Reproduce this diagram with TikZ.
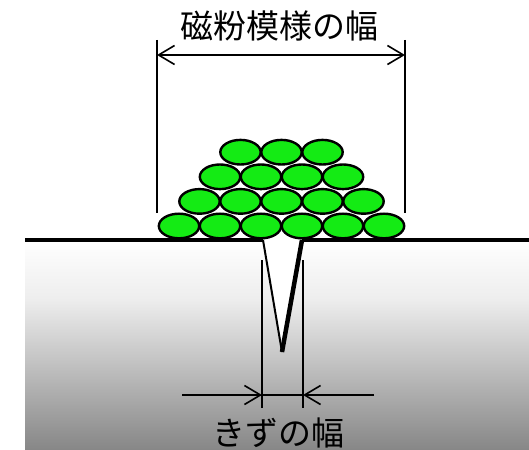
\documentclass[tikz,border=0pt]{standalone}
\usepackage{fontspec}
\newfontfamily\jpfont{Noto Sans CJK JP}
\usetikzlibrary{arrows.meta}
\definecolor{ballgreen}{RGB}{20,235,20}
\definecolor{steeltop}{gray}{0.93}
\definecolor{steelbottom}{gray}{0.53}
\tikzset{
  ball/.style={draw=black, line width=2.4pt, fill=ballgreen},
  dimline/.style={line width=1.6pt, black},
  dimarrow/.style={dimline, -{Straight Barb[length=16pt,width=19pt,line width=1.6pt]}},
  label/.style={font=\jpfont\fontsize{33pt}{33pt}\selectfont, inner sep=0pt},
}
\begin{document}
\begin{tikzpicture}[x=1pt, y=-1pt]
  \useasboundingbox (0,0) rectangle (529,449);
  \clip (0,0) rectangle (529,449);

  % base material with vertical gradient
  \shade[top color=white, bottom color=steeltop] (25,240) rectangle (529,300);
  \shade[top color=steeltop, bottom color=steelbottom] (25,299.5) rectangle (529,449);

  % magnetic particles, piled in four rows (top row first)
  \foreach \r in {3,2,1,0} {
    \pgfmathtruncatemacro{\n}{5-\r}
    \foreach \i in {0,...,\n} {
      \draw[ball] ({179+20.5*\r+41*\i},{226-24.6*\r}) ellipse [x radius=20.2, y radius=12.3];
    }
  }

  % surface line, interrupted by the crack opening
  \coordinate (sl) at (25,240);
  \coordinate (sr) at (529,240);
  \coordinate (ctl) at (263,240);
  \coordinate (ctr) at (302,240);
  \coordinate (ctip) at (282,352);
  \draw[line width=4pt] (sl) -- (ctl);
  \draw[line width=4pt] (ctr) -- (sr);

  % crack
  \fill[white] (ctl) -- (ctip) -- (ctr) -- cycle;
  \draw[line width=2pt] (ctl) -- (ctip);
  \draw[line width=4.5pt] (ctr) -- (ctip);

  % width of the particle pattern
  \coordinate (pl) at (157,40);
  \coordinate (plb) at (157,213);
  \coordinate (pr) at (405,40);
  \coordinate (prb) at (405,213);
  \coordinate (pal) at (157,55);
  \coordinate (par) at (405,55);
  \draw[dimline] (pl) -- (plb);
  \draw[dimline] (pr) -- (prb);
  \draw[dimline, {Straight Barb[length=16pt,width=19pt,line width=1.6pt]}-{Straight Barb[length=16pt,width=19pt,line width=1.6pt]}] (pal) -- (par);
  \node[label] (ptext) at (279,26) {磁粉模様の幅};

  % width of the crack
  \coordinate (kl) at (262,260);
  \coordinate (klb) at (262,408);
  \coordinate (kr) at (303,260);
  \coordinate (krb) at (303,408);
  \coordinate (kal) at (262,395);
  \coordinate (kar) at (303,395);
  \coordinate (kfl) at (182,395);
  \coordinate (kfr) at (374,395);
  \draw[dimline] (kl) -- (klb);
  \draw[dimline] (kr) -- (krb);
  \draw[dimline] (kal) -- (kar);
  \draw[dimarrow] (kfl) -- (kal);
  \draw[dimarrow] (kfr) -- (kar);
  \node[label] (ktext) at (278,433) {きずの幅};
\end{tikzpicture}
\end{document}
